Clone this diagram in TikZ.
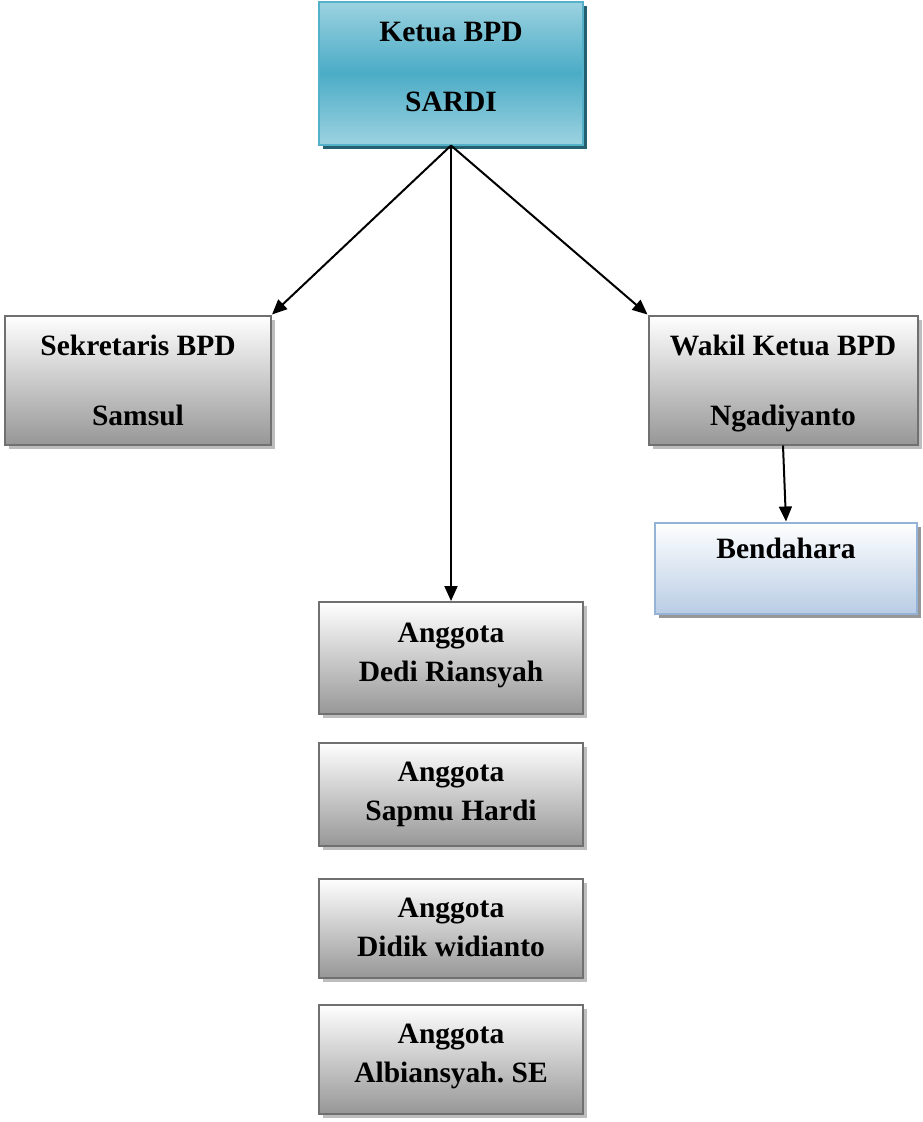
\documentclass[tikz,border=0pt]{standalone}
\usepackage{fontspec}
\setmainfont{Liberation Serif}
\usetikzlibrary{arrows.meta,shadows}

\definecolor{ketuaLight}{HTML}{9CD2E0}
\definecolor{ketuaMid}{HTML}{4BACC6}
\definecolor{ketuaLine}{HTML}{55B1CA}
\definecolor{ketuaShadow}{HTML}{24606F}
\definecolor{greyLine}{HTML}{707070}
\definecolor{greyBottom}{HTML}{979797}
\definecolor{greyShadow}{HTML}{BDBDBD}
\definecolor{blueBottom}{HTML}{B9CDE5}
\definecolor{blueLine}{HTML}{95B3D7}

\tikzset{
  orgbox/.style={rectangle,draw,line width=2pt,inner sep=0pt,align=center,
    font=\fontsize{29.5}{70}\selectfont\bfseries},
  ketuabox/.style={orgbox,draw=ketuaLine,top color=ketuaLight,bottom color=ketuaLight,
    middle color=ketuaMid,
    drop shadow={shadow xshift=4pt,shadow yshift=-4pt,opacity=1,fill=ketuaShadow}},
  greybox/.style={orgbox,draw=greyLine,top color=white,bottom color=greyBottom,
    drop shadow={shadow xshift=4pt,shadow yshift=-4pt,opacity=1,fill=greyShadow}},
  anggotabox/.style={greybox,minimum width=264pt,font=\fontsize{29.5}{39}\selectfont\bfseries},
  bluebox/.style={orgbox,draw=blueLine,top color=white,bottom color=blueBottom,
    drop shadow={shadow xshift=4pt,shadow yshift=-4pt,opacity=1,fill=greyShadow!80!black}},
  link/.style={line width=2pt,-{Triangle[length=15pt,width=13pt]}}
}

\begin{document}
\begin{tikzpicture}[x=1pt,y=-1pt]
  \useasboundingbox (0,0) rectangle (922,1122);

  % Top of the board.
  \node[ketuabox,minimum width=264pt,minimum height=143pt,text depth=12pt] (ketua) at (451,73) {Ketua BPD\\SARDI};

  % Second level.
  \node[greybox,minimum width=266pt,minimum height=129pt] (sekretaris) at (138,380) {Sekretaris BPD\\Samsul};
  \node[greybox,minimum width=269pt,minimum height=129pt,text depth=0pt] (wakil) at (783,380) {Wakil Ketua BPD\\Ngadiyanto};
  \node[bluebox,minimum width=262pt,minimum height=91pt,text depth=39pt] (bendahara) at (786,568) {Bendahara};

  % Members, stacked below the chair.
  \node[anggotabox,minimum height=112pt,text depth=12pt] (anggota1) at (451,658) {Anggota\\Dedi Riansyah};
  \node[anggotabox,minimum height=103pt,text depth=6pt] (anggota2) at (451,794) {Anggota\\Sapmu Hardi};
  \node[anggotabox,minimum height=99pt,text depth=2pt] (anggota3) at (451,928) {Anggota\\Didik widianto};
  \node[anggotabox,minimum height=109pt,text depth=12pt] (anggota4) at (451,1059) {Anggota\\Albiansyah.\ SE};

  % Lines of command.
  \draw[link] (ketua.south) -- (sekretaris.north east);
  \draw[link] (ketua.south) -- (wakil.north west);
  \draw[link] (ketua.south) -- (anggota1.north);
  \draw[link] (wakil.south) -- (bendahara.north);
\end{tikzpicture}
\end{document}
